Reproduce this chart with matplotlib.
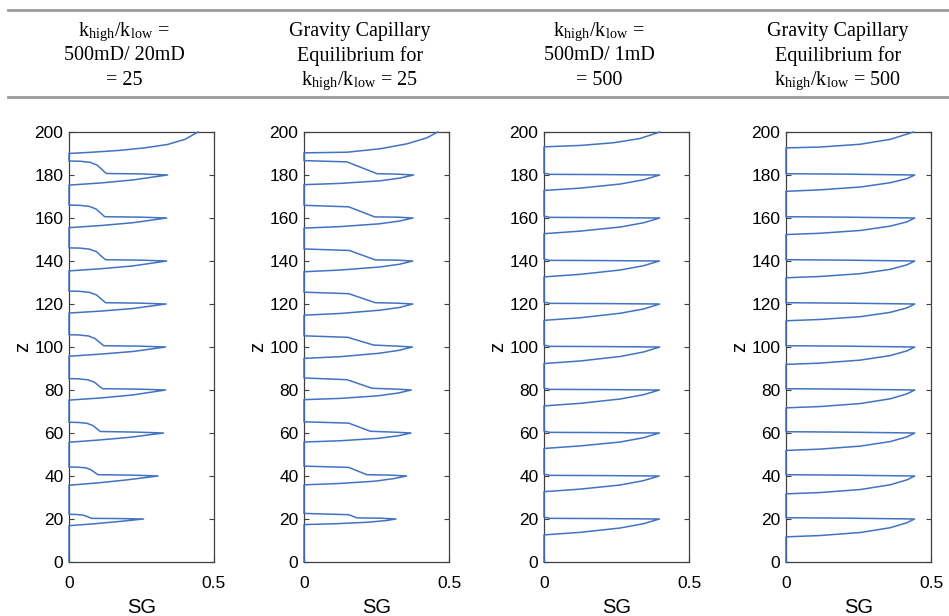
import matplotlib
matplotlib.use("Agg")
import matplotlib.pyplot as plt
from matplotlib.lines import Line2D

plt.rcParams['font.family'] = ['Liberation Sans', 'DejaVu Sans']
plt.rcParams['mathtext.fontset'] = 'stix'

# column headers
titles = [
    ["k$_\\mathregular{high}$/k$_\\mathregular{low}$ =", "500mD/ 20mD", "= 25"],
    ["Gravity Capillary", "Equilibrium for", "k$_\\mathregular{high}$/k$_\\mathregular{low}$ = 25"],
    ["k$_\\mathregular{high}$/k$_\\mathregular{low}$ =", "500mD/ 1mD", "= 500"],
    ["Gravity Capillary", "Equilibrium for", "k$_\\mathregular{high}$/k$_\\mathregular{low}$ = 500"],
]

# panel 1: k_high/k_low = 25 (simulation)
sg1 = [0.445, 0.40, 0.34, 0.26, 0.17, 0.08, 0.0,
       0.0, 0.038, 0.073, 0.097, 0.114, 0.129, 0.248, 0.340, 0.22, 0.11, 0.0,
       0.0, 0.036, 0.070, 0.093, 0.109, 0.123, 0.245, 0.337, 0.22, 0.11, 0.0,
       0.0, 0.037, 0.071, 0.095, 0.111, 0.126, 0.245, 0.337, 0.22, 0.11, 0.0,
       0.0, 0.037, 0.071, 0.095, 0.111, 0.126, 0.243, 0.335, 0.22, 0.11, 0.0,
       0.0, 0.035, 0.068, 0.090, 0.106, 0.120, 0.242, 0.333, 0.22, 0.11, 0.0,
       0.0, 0.034, 0.066, 0.088, 0.103, 0.116, 0.240, 0.333, 0.22, 0.11, 0.0,
       0.0, 0.032, 0.062, 0.082, 0.096, 0.108, 0.235, 0.326, 0.21, 0.10, 0.0,
       0.0, 0.030, 0.058, 0.076, 0.089, 0.100, 0.220, 0.307, 0.20, 0.10, 0.0,
       0.0, 0.025, 0.048, 0.062, 0.072, 0.079, 0.170, 0.257, 0.17, 0.08, 0.0,
       0.0]
z1 = [200.0, 196.6, 194.2, 192.6, 191.4, 190.6, 190.0,
      186.5, 186.4, 185.9, 184.6, 182.5, 180.7, 180.5, 180.0, 177.7, 176.3, 175.3,
      166.0, 165.9, 165.4, 164.2, 162.3, 160.6, 160.4, 160.0, 157.8, 156.5, 155.5,
      146.1, 146.0, 145.5, 144.3, 142.3, 140.6, 140.4, 140.0, 137.7, 136.4, 135.4,
      126.0, 125.9, 125.4, 124.2, 122.3, 120.6, 120.4, 120.0, 117.9, 116.7, 115.8,
      105.7, 105.6, 105.1, 103.9, 102.1, 100.6, 100.4, 100.0, 97.9, 96.7, 95.7,
      85.3, 85.2, 84.7, 83.6, 81.9, 80.6, 80.4, 80.0, 77.7, 76.3, 75.3,
      65.0, 64.9, 64.5, 63.5, 62.0, 60.7, 60.4, 60.0, 58.0, 56.7, 55.7,
      44.2, 44.1, 43.8, 42.9, 41.6, 40.6, 40.4, 40.0, 38.2, 36.8, 35.7,
      22.2, 22.1, 21.8, 21.2, 20.6, 20.3, 20.2, 20.0, 18.8, 17.7, 16.9,
      0.0]

# panel 2: gravity capillary equilibrium, ratio 25
sg2 = [0.461, 0.424, 0.355, 0.263, 0.148, 0.0,
       0.0, 0.148, 0.252, 0.320, 0.378, 0.332, 0.263, 0.125, 0.0,
       0.0, 0.154, 0.244, 0.320, 0.376, 0.330, 0.260, 0.125, 0.0,
       0.0, 0.156, 0.246, 0.320, 0.375, 0.330, 0.260, 0.125, 0.0,
       0.0, 0.154, 0.246, 0.320, 0.375, 0.330, 0.260, 0.125, 0.0,
       0.0, 0.151, 0.240, 0.320, 0.374, 0.330, 0.260, 0.125, 0.0,
       0.0, 0.148, 0.235, 0.320, 0.370, 0.325, 0.255, 0.125, 0.0,
       0.0, 0.154, 0.229, 0.310, 0.369, 0.325, 0.255, 0.125, 0.0,
       0.0, 0.154, 0.217, 0.300, 0.354, 0.310, 0.245, 0.120, 0.0,
       0.0, 0.154, 0.183, 0.260, 0.317, 0.285, 0.220, 0.110, 0.0,
       0.0]
z2 = [200.0, 197.3, 194.5, 192.2, 190.6, 190.3,
      186.7, 186.1, 180.6, 180.4, 180.0, 178.6, 177.3, 176.1, 175.5,
      165.9, 165.2, 160.5, 160.4, 160.0, 158.6, 157.3, 156.0, 155.3,
      145.6, 144.9, 140.5, 140.4, 140.0, 138.5, 137.2, 135.8, 135.0,
      125.5, 124.8, 120.6, 120.4, 120.0, 118.4, 117.1, 115.6, 114.8,
      105.2, 104.5, 100.9, 100.4, 100.0, 98.5, 97.1, 95.5, 94.7,
      85.6, 84.8, 80.8, 80.4, 80.0, 78.6, 77.3, 76.1, 75.5,
      65.2, 64.6, 60.8, 60.4, 60.0, 58.7, 57.5, 56.4, 55.8,
      44.6, 44.0, 40.6, 40.4, 40.0, 38.8, 37.6, 36.5, 35.9,
      22.6, 22.0, 20.5, 20.4, 20.0, 19.3, 18.5, 17.8, 17.4,
      0.0]

# panel 3: k_high/k_low = 500 (simulation)
sg3 = [0.399, 0.332, 0.240, 0.125, 0.0,
       0.0, 0.020, 0.200, 0.399, 0.344, 0.263, 0.125, 0.0,
       0.0, 0.020, 0.200, 0.399, 0.344, 0.263, 0.125, 0.0,
       0.0, 0.020, 0.200, 0.398, 0.343, 0.262, 0.125, 0.0,
       0.0, 0.020, 0.200, 0.399, 0.344, 0.263, 0.125, 0.0,
       0.0, 0.020, 0.200, 0.399, 0.344, 0.263, 0.125, 0.0,
       0.0, 0.020, 0.200, 0.398, 0.343, 0.262, 0.125, 0.0,
       0.0, 0.020, 0.200, 0.398, 0.343, 0.262, 0.125, 0.0,
       0.0, 0.020, 0.200, 0.397, 0.342, 0.262, 0.125, 0.0,
       0.0, 0.020, 0.200, 0.398, 0.343, 0.262, 0.125, 0.0,
       0.0]
z3 = [200.0, 197.0, 195.0, 193.75, 193.1,
      180.9, 180.3, 180.2, 180.0, 177.8, 175.8, 173.9, 172.8,
      160.9, 160.3, 160.2, 160.0, 157.8, 155.8, 153.9, 152.7,
      140.9, 140.3, 140.2, 140.0, 137.8, 135.8, 133.8, 132.6,
      120.9, 120.3, 120.2, 120.0, 117.7, 115.7, 113.6, 112.4,
      100.9, 100.3, 100.2, 100.0, 97.7, 95.6, 93.5, 92.3,
      80.9, 80.3, 80.2, 80.0, 77.8, 75.8, 73.8, 72.6,
      60.9, 60.3, 60.2, 60.0, 57.8, 55.8, 54.0, 52.8,
      40.9, 40.3, 40.2, 40.0, 37.8, 35.8, 33.9, 32.7,
      20.9, 20.3, 20.2, 20.0, 17.8, 15.8, 13.8, 12.6,
      0.0]

# panel 4: gravity capillary equilibrium, ratio 500
sg4 = [0.440, 0.360, 0.256, 0.117, 0.0,
       0.0, 0.200, 0.444, 0.417, 0.359, 0.256, 0.117, 0.0,
       0.0, 0.200, 0.444, 0.417, 0.359, 0.256, 0.117, 0.0,
       0.0, 0.200, 0.444, 0.417, 0.359, 0.256, 0.117, 0.0,
       0.0, 0.200, 0.444, 0.417, 0.359, 0.256, 0.117, 0.0,
       0.0, 0.200, 0.444, 0.417, 0.359, 0.256, 0.117, 0.0,
       0.0, 0.200, 0.444, 0.417, 0.359, 0.256, 0.117, 0.0,
       0.0, 0.200, 0.444, 0.417, 0.359, 0.256, 0.117, 0.0,
       0.0, 0.200, 0.444, 0.417, 0.359, 0.256, 0.117, 0.0,
       0.0, 0.200, 0.443, 0.416, 0.358, 0.255, 0.117, 0.0,
       0.0]
z4 = [200.0, 196.6, 194.3, 193.0, 192.6,
      180.6, 180.4, 180.0, 178.3, 176.4, 174.4, 173.1, 172.4,
      160.6, 160.4, 160.0, 158.2, 156.2, 154.2, 152.9, 152.3,
      140.6, 140.4, 140.0, 138.2, 136.1, 134.1, 132.8, 132.2,
      120.6, 120.4, 120.0, 118.2, 116.1, 114.1, 112.8, 112.2,
      100.6, 100.4, 100.0, 98.2, 96.0, 93.9, 92.5, 91.9,
      80.6, 80.4, 80.0, 78.2, 75.9, 73.7, 72.3, 71.7,
      60.6, 60.4, 60.0, 58.2, 56.0, 53.9, 52.5, 51.9,
      40.6, 40.4, 40.0, 38.2, 35.9, 33.7, 32.3, 31.7,
      20.6, 20.4, 20.0, 18.2, 15.9, 13.7, 12.3, 11.7,
      0.0]

profiles = [(sg1, z1), (sg2, z2), (sg3, z3), (sg4, z4)]

yticks = [0, 20, 40, 60, 80, 100, 120, 140, 160, 180, 200]
xticks = [0, 0.5]
xticklabels = ['0', '0.5']

fig = plt.figure(figsize=(9.49, 6.16), dpi=100)

lefts = [69, 304, 544, 786]
centers = [124, 360, 599, 838]
line_col = '#4272c2'

for i in range(4):
    ax = fig.add_axes([lefts[i] / 949, 54 / 616, 145 / 949, 430 / 616])
    sg, z = profiles[i]
    ax.plot(sg, z, color=line_col, lw=1.1, clip_on=False, zorder=3)
    ax.set_xlim(0, 0.5)
    ax.set_ylim(0, 200)
    ax.set_xticks(xticks)
    ax.set_xticklabels(xticklabels)
    ax.set_yticks(yticks)
    ax.tick_params(direction='in', length=3.5, width=0.8, color='#404040',
                   right=True, top=True, labelsize=12.5, pad=4)
    ax.tick_params(axis='x', pad=10)
    for s in ax.spines.values():
        s.set_color('#404040')
        s.set_linewidth(0.9)
    ax.set_xlabel('SG', fontsize=14.5, labelpad=5)
    ax.set_ylabel('z', fontsize=14.5, labelpad=2)

    for j in range(3):
        fig.text(centers[i] / 949, 1 - (36 + 24.5 * j) / 616, titles[i][j],
                 ha='center', va='baseline', fontsize=14.5,
                 family=['Liberation Serif', 'DejaVu Serif'])

# header rules
for yy in [10, 97]:
    fig.add_artist(Line2D([8 / 949, 1.0], [1 - yy / 616, 1 - yy / 616],
                          color='#9a9a9a', lw=2.0, transform=fig.transFigure))

plt.savefig('out.png', dpi=100)
